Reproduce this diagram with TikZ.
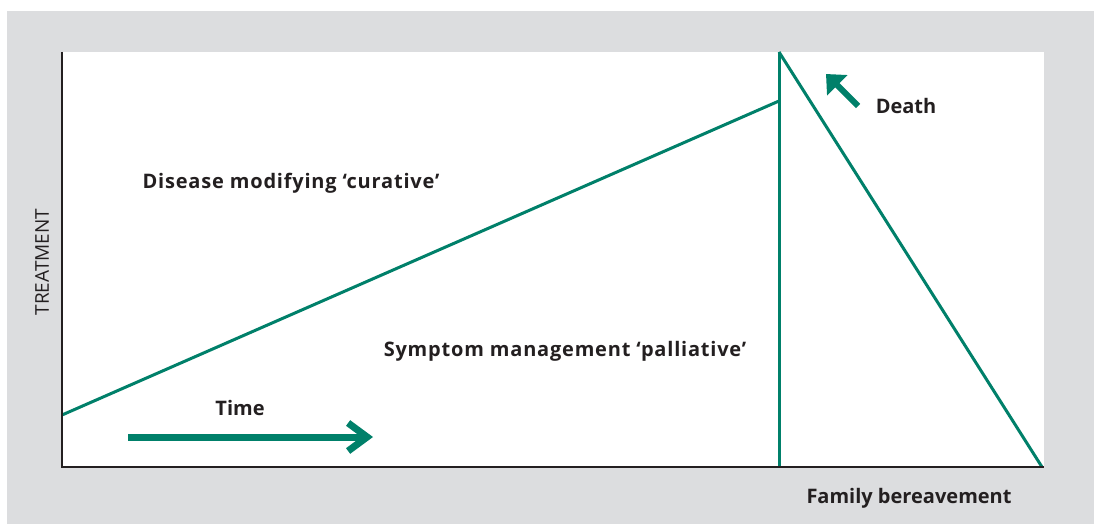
\documentclass[tikz,border=0pt]{standalone}
\usepackage{fontspec}
\setmainfont{Open Sans}
\usetikzlibrary{arrows.meta}
\definecolor{panelgray}{RGB}{220,221,223}
\definecolor{caregreen}{RGB}{0,128,106}
\definecolor{inkdark}{RGB}{35,31,32}
\tikzset{
  axis/.style={draw=inkdark,line width=2.5pt},
  curve/.style={draw=caregreen,line width=3pt},
  label/.style={text=inkdark,font=\bfseries\fontsize{20}{24}\selectfont,inner sep=0pt},
  widelabel/.style={label,font=\bfseries\fontsize{20}{24}\selectfont\addfontfeature{LetterSpace=4}},
  timearrow/.style={draw=caregreen,line width=7pt,-{Straight Barb[length=19pt,width=28pt]}},
  deatharrow/.style={draw=caregreen,line width=6pt,-{Triangle[length=16pt,width=28pt]}}
}
\begin{document}
\begin{tikzpicture}[x=1pt,y=-1pt]
\useasboundingbox (0,0) rectangle (1094,524);
\fill[panelgray] (7,11) rectangle (1094,524);
\fill[white] (62,52) rectangle (1044,467);
% corners of the plot
\coordinate (top) at (62,52);
\coordinate (origin) at (62,467);
\coordinate (right) at (1044,467);
% green lines
\coordinate (start) at (62,415);
\coordinate (peak) at (779,101);
\coordinate (death) at (779,52);
\coordinate (deathfoot) at (779,467);
\coordinate (bereave) at (1042,467);
\draw[curve] (start) -- (peak);
\draw[curve] (death) -- (deathfoot);
\draw[curve] (death) -- (bereave);
\draw[axis] (top) -- (origin) -- (right);
% arrows
\coordinate (tstart) at (128,437);
\coordinate (tend) at (373,437);
\draw[timearrow] (tstart) -- (tend);
\coordinate (dstart) at (858,106);
\coordinate (dend) at (826,74);
\draw[deatharrow] (dstart) -- (dend);
% labels
\node[widelabel] (curative) at (291,183) {Disease modifying ‘curative’};
\node[widelabel] (palliative) at (565,351) {Symptom management ‘palliative’};
\node[label] (time) at (240,408) {Time};
\node[label] (deathlbl) at (906,106) {Death};
\node[label] (family) at (909,498) {Family bereavement};
\node[text=inkdark,font=\fontsize{19}{22}\selectfont,inner sep=0pt,rotate=90] (treatment) at (42,262) {TREATMENT};
\end{tikzpicture}
\end{document}
